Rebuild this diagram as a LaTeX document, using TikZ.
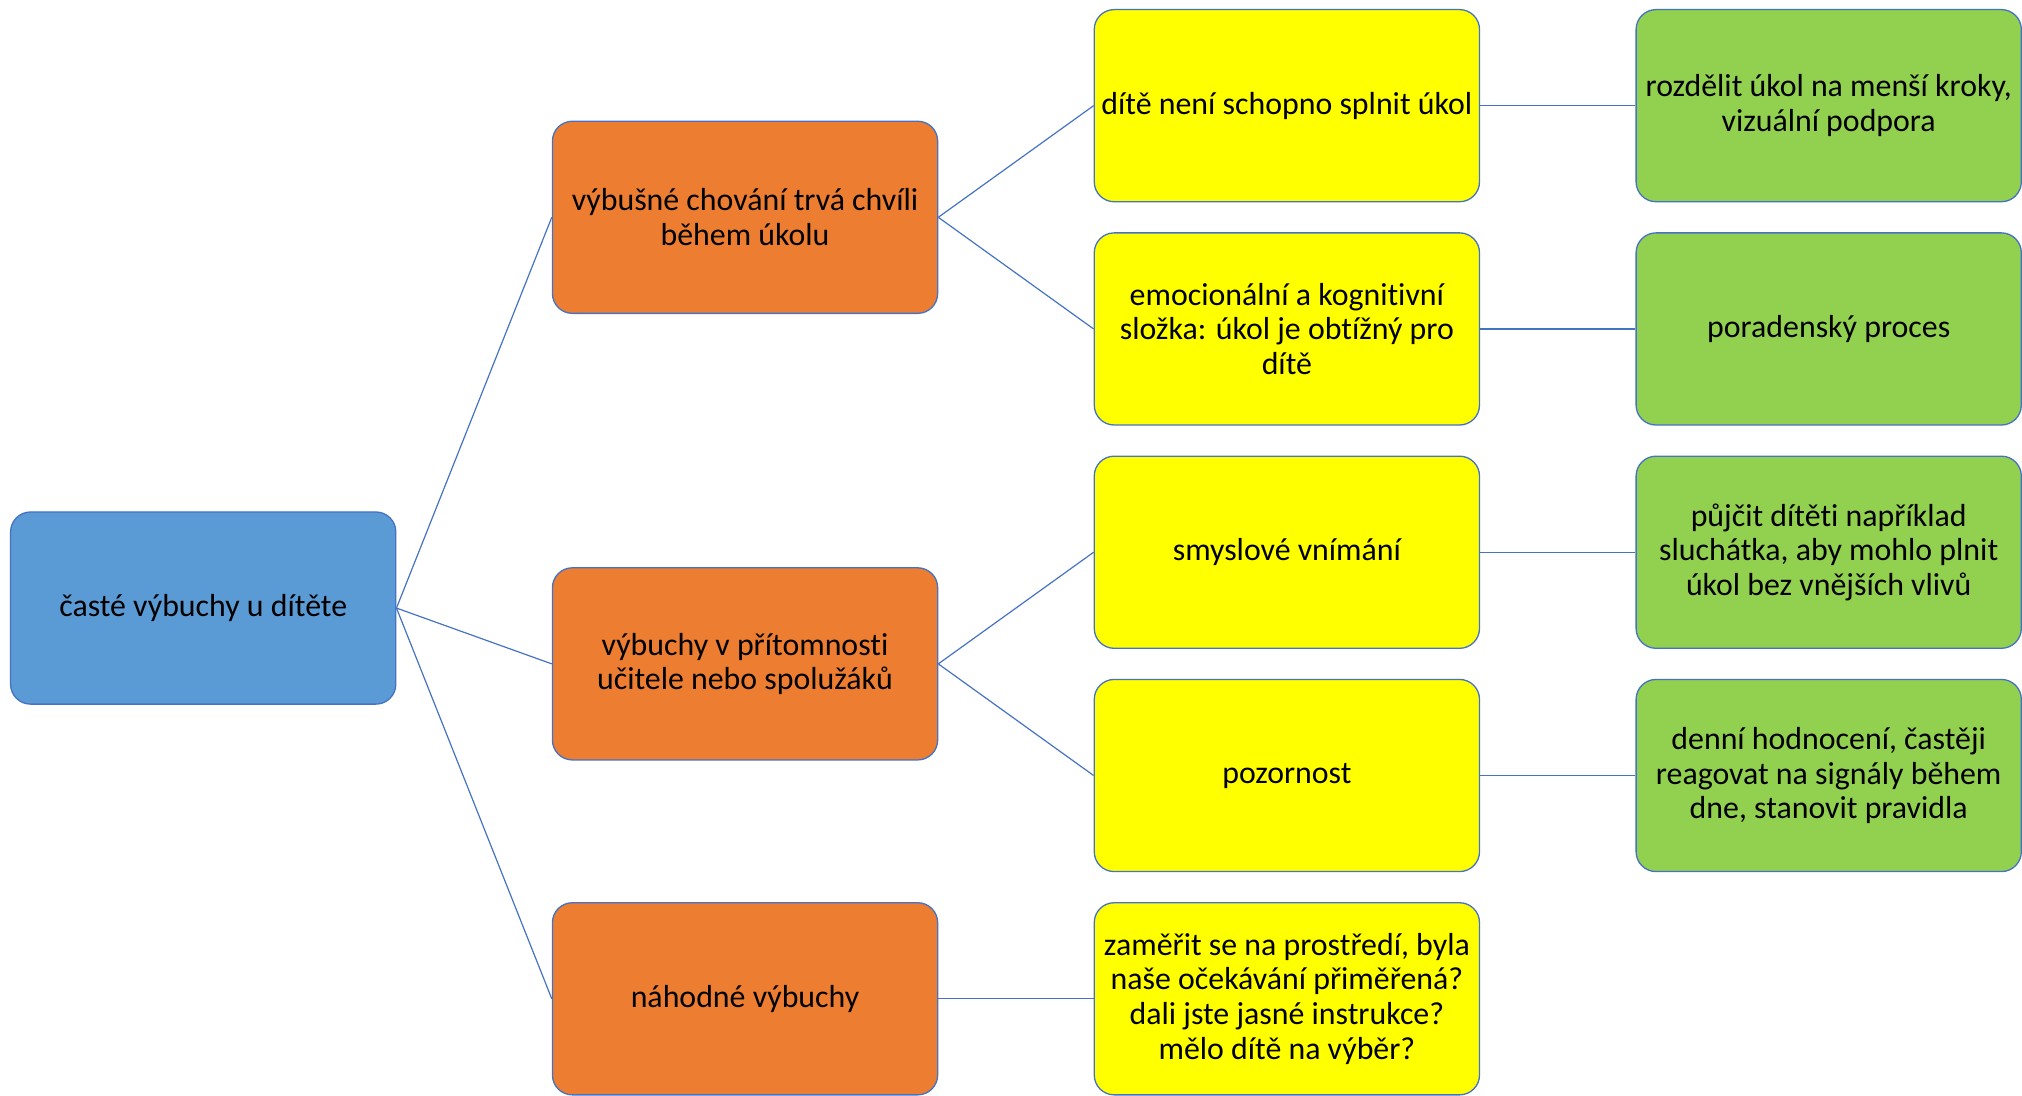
\documentclass[tikz,border=0pt]{standalone}
\usepackage{fontspec}
\setmainfont[Ligatures=NoCommon]{Carlito}
\usetikzlibrary{positioning}
\usetikzlibrary{calc}
\definecolor{lineblue}{HTML}{4472C4}
\definecolor{rootblue}{HTML}{5B9BD5}
\definecolor{causeorange}{HTML}{ED7D31}
\definecolor{reasonyellow}{HTML}{FFFF00}
\definecolor{helpgreen}{HTML}{92D050}
\tikzstyle{box} = [rectangle, rounded corners=10pt, draw=lineblue, line width=0.65pt, minimum width=193.5pt, minimum height=96.5pt, align=center, font=\fontsize{16}{17.4}\selectfont]
\tikzstyle{rootD} = [box, fill=rootblue]
\tikzstyle{causeD} = [box, fill=causeorange]
\tikzstyle{reasonD} = [box, fill=reasonyellow]
\tikzstyle{helpD} = [box, fill=helpgreen]
\tikzstyle{link} = [draw=lineblue, line width=0.6pt]

\begin{document}
\begin{tikzpicture}[node distance=15pt and 78pt]
%\draw [help lines] (-3,-5) grid (3,5);

% Define nodes
\node[reasonD]                  (y1) {dítě není schopno splnit úkol};
\node[reasonD, below = of y1]   (y2) {emocionální a kognitivní\\složka: úkol je obtížný pro\\dítě};
\node[reasonD, below = of y2]   (y3) {smyslové vnímání};
\node[reasonD, below = of y3]   (y4) {pozornost};
\node[reasonD, below = of y4]   (y5) {zaměřit se na prostředí, byla\\naše očekávání přiměřená?\\dali jste jasné instrukce?\\mělo dítě na výběr?};

\node[helpD, right = of y1]     (g1) {rozdělit úkol na menší kroky,\\vizuální podpora};
\node[helpD, right = of y2]     (g2) {poradenský proces};
\node[helpD, right = of y3]     (g3) {půjčit dítěti například\\sluchátka, aby mohlo plnit\\úkol bez vnějších vlivů};
\node[helpD, right = of y4]     (g4) {denní hodnocení, častěji\\reagovat na signály během\\dne, stanovit pravidla};

\coordinate (m1) at ($(y1.west)!0.5!(y2.west)$);
\coordinate (m2) at ($(y3.west)!0.5!(y4.west)$);
\node[causeD, left = of m1]     (o1) {výbušné chování trvá chvíli\\během úkolu};
\node[causeD, left = of m2]     (o2) {výbuchy v přítomnosti\\učitele nebo spolužáků};
\node[causeD, left = of y5]     (o3) {náhodné výbuchy};

\coordinate (m0) at ($(o1.west)!0.5!(o3.west)$);
\node[rootD, left = of m0]      (root) {časté výbuchy u dítěte};

% Edges
\draw[link] (root.east) -- (o1.west);%
\draw[link] (root.east) -- (o2.west);%
\draw[link] (root.east) -- (o3.west);%
\draw[link] (o1.east) -- (y1.west);%
\draw[link] (o1.east) -- (y2.west);%
\draw[link] (o2.east) -- (y3.west);%
\draw[link] (o2.east) -- (y4.west);%
\draw[link] (o3.east) -- (y5.west);%
\draw[link] (y1.east) -- (g1.west);%
\draw[link] (y2.east) -- (g2.west);%
\draw[link] (y3.east) -- (g3.west);%
\draw[link] (y4.east) -- (g4.west);%

\useasboundingbox ($(root.west |- y1.north) + (-5pt,4.5pt)$) rectangle ++(1011pt,-548pt);
\end{tikzpicture}
\end{document}
